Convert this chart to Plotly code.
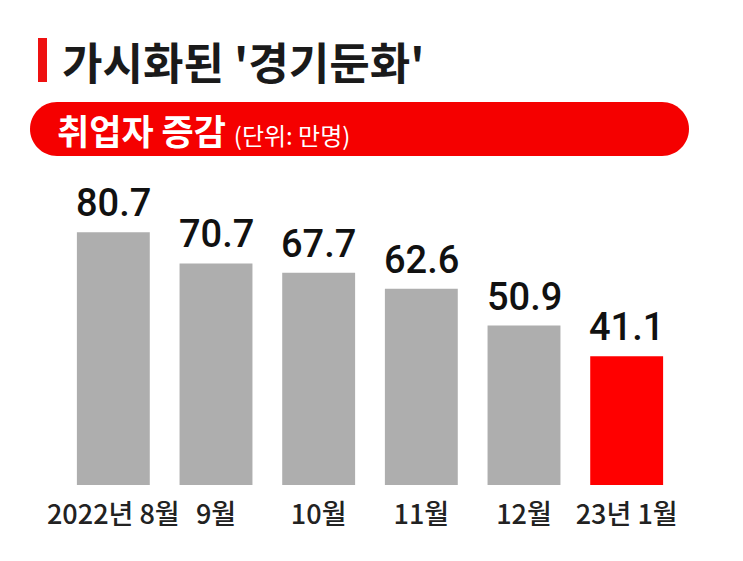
import plotly.graph_objects as go

categories = ["2022년 8월", "9월", "10월", "11월", "12월", "23년 1월"]
values = [80.7, 70.7, 67.7, 62.6, 50.9, 41.1]
highlight = [False, False, False, False, False, True]
title_text = "가시화된 '경기둔화'"
banner_main = "취업자 증감"
banner_unit = "(단위: 만명)"

W, H = 743, 561
L, R, T, B = 62, 65, 203, 76
PW = W - L - R
PH = H - T - B
YMAX = 90

GRAY = "#aeaeae"
RED = "#ff0000"
KR = "Noto Sans CJK KR"


def px(x):
    return (x - L) / PW


def py(y):
    return (H - B - y) / PH


colors = [RED if h else GRAY for h in highlight]

fig = go.Figure(
    go.Bar(
        x=categories,
        y=values,
        marker=dict(color=colors, line=dict(width=0)),
        hoverinfo="skip",
    )
)

annotations = []
for c, v in zip(categories, values):
    annotations.append(
        dict(
            x=c, y=v, xref="x", yref="y", text=f"{v:.1f}", showarrow=False,
            yanchor="bottom", yshift=5,
            font=dict(family="Roboto, " + KR, size=38, color="#111111", weight=500),
        )
    )

# title
annotations.append(
    dict(
        x=px(60), y=py(61), xref="paper", yref="paper", text=title_text,
        showarrow=False, xanchor="left", yanchor="middle",
        font=dict(family=KR, size=44, color="#1a1a1a", weight=700),
    )
)
# banner text
annotations.append(
    dict(
        x=px(55), y=py(129), xref="paper", yref="paper",
        text=f"<b>{banner_main}</b> <span style='font-size:24px'>{banner_unit}</span>",
        showarrow=False, xanchor="left", yanchor="middle",
        font=dict(family=KR, size=35, color="#ffffff"),
    )
)

# rounded banner path
x0, x1, y0, y1 = 30, 689, 102, 156
r = (y1 - y0) / 2
k = 0.5523 * r
pts = [
    ("M", [(x0 + r, y0)]),
    ("L", [(x1 - r, y0)]),
    ("C", [(x1 - r + k, y0), (x1, y0 + r - k), (x1, y0 + r)]),
    ("C", [(x1, y0 + r + k), (x1 - r + k, y1), (x1 - r, y1)]),
    ("L", [(x0 + r, y1)]),
    ("C", [(x0 + r - k, y1), (x0, y1 - r + k), (x0, y1 - r)]),
    ("C", [(x0, y1 - r - k), (x0 + r - k, y0), (x0 + r, y0)]),
]
path = ""
for cmd, ps in pts:
    path += cmd + " " + " ".join(f"{px(a):.5f},{py(b):.5f}" for a, b in ps) + " "
path += "Z"

shapes = [
    dict(type="path", xref="paper", yref="paper", path=path,
         fillcolor="#f50000", line=dict(width=0), layer="below"),
    dict(type="rect", xref="paper", yref="paper",
         x0=px(38), x1=px(47), y0=py(38), y1=py(82),
         fillcolor="#ee1111", line=dict(width=0)),
]

fig.update_layout(
    width=W, height=H,
    margin=dict(l=L, r=R, t=T, b=B, pad=0),
    paper_bgcolor="white", plot_bgcolor="white",
    bargap=0.29,
    showlegend=False,
    annotations=annotations,
    shapes=shapes,
    xaxis=dict(
        showgrid=False, zeroline=False, showline=False, ticks="",
        tickfont=dict(family=KR, size=27, color="#222222", weight=500),
        ticklabelstandoff=11,
        fixedrange=True,
    ),
    yaxis=dict(
        range=[0, YMAX], showgrid=False, zeroline=False, showline=False,
        showticklabels=False, fixedrange=True,
    ),
)

fig.write_html("out.html")
